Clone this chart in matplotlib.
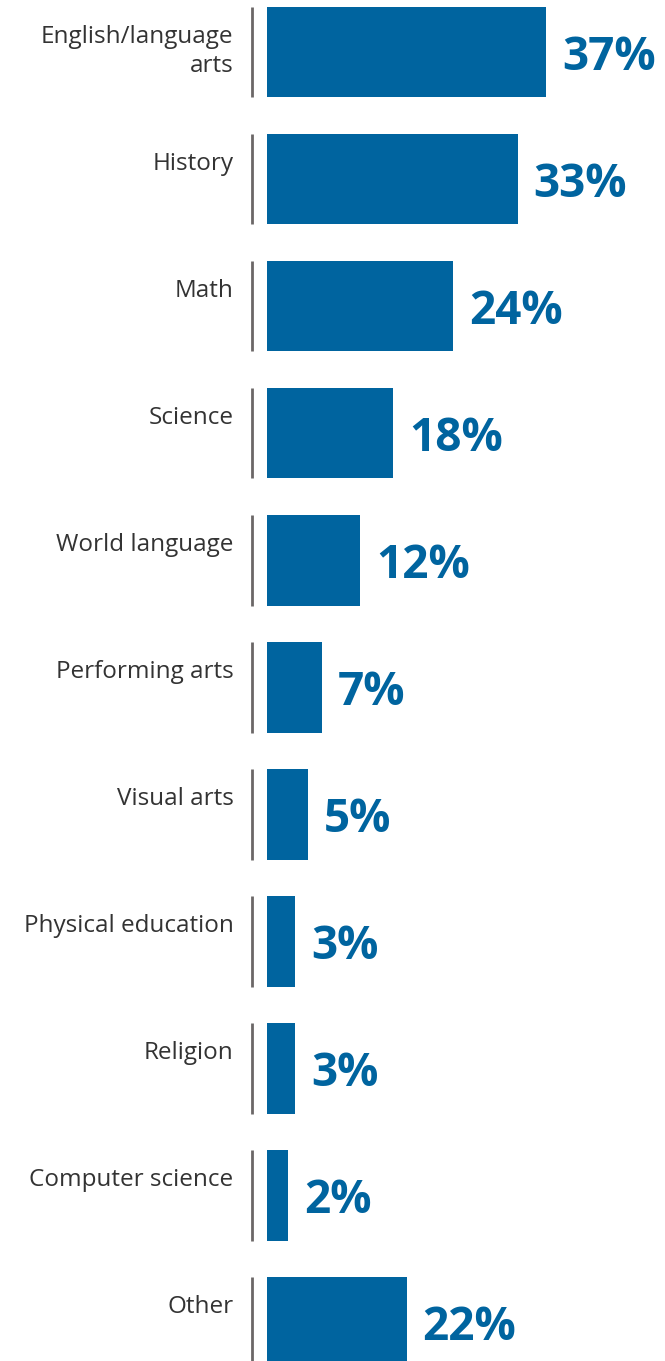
import matplotlib
matplotlib.use("Agg")
import matplotlib.pyplot as plt

# subjects, top to bottom
subjects = ["English/language\narts", "History", "Math", "Science", "World language",
            "Performing arts", "Visual arts", "Physical education", "Religion",
            "Computer science", "Other"]
# percentages printed next to the bars
pct_labels = ["37%", "33%", "24%", "18%", "12%", "7%", "5%", "3%", "3%", "2%", "22%"]
# bar lengths as drawn in the original (they don't all follow the printed numbers)
bar_lengths = [37.0, 33.2, 24.6, 16.7, 12.3, 7.3, 5.4, 3.7, 3.7, 2.8, 18.5]

blue = "#00649f"
grey_line = "#6b6767"
text_col = "#333333"

fig = plt.figure(figsize=(6.65, 13.61), dpi=100)
ax = fig.add_axes([0, 0, 1, 1])

ypos = list(range(len(subjects)))
bar_h = 0.709

ax.barh(ypos, bar_lengths, height=bar_h, color=blue, left=0)

# thin grey rule left of each bar
ax.vlines([-2.0] * len(ypos), [y - bar_h / 2 for y in ypos], [y + bar_h / 2 for y in ypos],
          color=grey_line, linewidth=2)

for y, name, val, lab in zip(ypos, subjects, bar_lengths, pct_labels):
    ax.text(-4.45, y - 0.213, name, ha="right", va="top", fontsize=17.5,
            family="Open Sans", color=text_col, linespacing=1.27)
    ax.annotate(lab, (val, y + 0.135), xytext=(11.5, 0), textcoords="offset points",
                ha="left", va="baseline", fontsize=33, fontweight="bold",
                family="Open Sans", color=blue)

ax.set_xlim(-35.36, 52.7)
ax.set_ylim(10.303, -0.413)
ax.axis("off")

fig.savefig("out.png", dpi=100)
